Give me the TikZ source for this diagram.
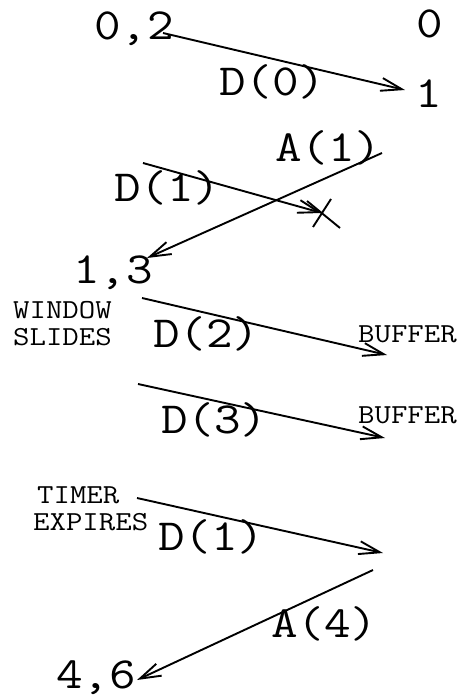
\documentclass[tikz,border=0pt]{standalone}
\usepackage{fontspec}
\newfontfamily\courfont[FakeStretch=1.16]{Latin Modern Mono}
\usetikzlibrary{arrows.meta}
\tikzset{
  big/.style={inner sep=0pt, anchor=base west, font=\courfont\fontsize{44.5}{44.5}\selectfont},
  small/.style={inner sep=0pt, anchor=base west, align=left, font=\courfont\fontsize{27.5}{27}\selectfont},
  msg/.style={line width=1.9pt, -{Straight Barb[length=21pt,width=13pt,line width=1.9pt]}},
  cross/.style={line width=1.9pt}
}
\begin{document}
\begin{tikzpicture}[x=1pt,y=-1pt]
\useasboundingbox (0,0) rectangle (465,700);
% labels
\node[big] (w02) at (94,40) {0,2};
\node[big] (r0) at (416,38) {0};
\node[big] (r1) at (415,108) {1};
\node[big] (ld0) at (219,96) {D(0)};
\node[big] (la1) at (275,162) {A(1)};
\node[big] (ld1) at (114,202) {D(1)};
\node[big] (w13) at (73,283) {1,3};
\node[small] (ws) at (13,345) {WINDOW\\SLIDES};
\node[big] (ld2) at (153,347) {D(2)};
\node[small] (b1) at (358,342) {BUFFER};
\node[big] (ld3) at (161,433) {D(3)};
\node[small] (b2) at (358,423) {BUFFER};
\node[small] (te) at (33,530) {\hspace{4pt}TIMER\\EXPIRES};
\node[big] (ld4) at (158,550) {D(1)};
\node[big] (la4) at (271,637) {A(4)};
\node[big] (w46) at (56,688) {4,6};
% endpoints
\coordinate (s0) at (163,33);  \coordinate (e0) at (405,90);
\coordinate (s1) at (143,163); \coordinate (e1) at (322,213);
\coordinate (sa1) at (382,153); \coordinate (ea1) at (147,258);
\coordinate (s2) at (142,298); \coordinate (e2) at (387,355);
\coordinate (s3) at (138,384); \coordinate (e3) at (385,438);
\coordinate (s4) at (137,498); \coordinate (e4) at (383,553);
\coordinate (sa4) at (373,570); \coordinate (ea4) at (137,680);
\coordinate (x1) at (307,201); \coordinate (x2) at (340,228);
\coordinate (x3) at (331,199); \coordinate (x4) at (313,227);
% messages
\draw[msg] (s0) -- (e0);
\draw[msg] (s1) -- (e1);
\draw[cross] (x1) -- (x2);
\draw[cross] (x3) -- (x4);
\draw[msg] (sa1) -- (ea1);
\draw[msg] (s2) -- (e2);
\draw[msg] (s3) -- (e3);
\draw[msg] (s4) -- (e4);
\draw[msg] (sa4) -- (ea4);
\end{tikzpicture}
\end{document}
